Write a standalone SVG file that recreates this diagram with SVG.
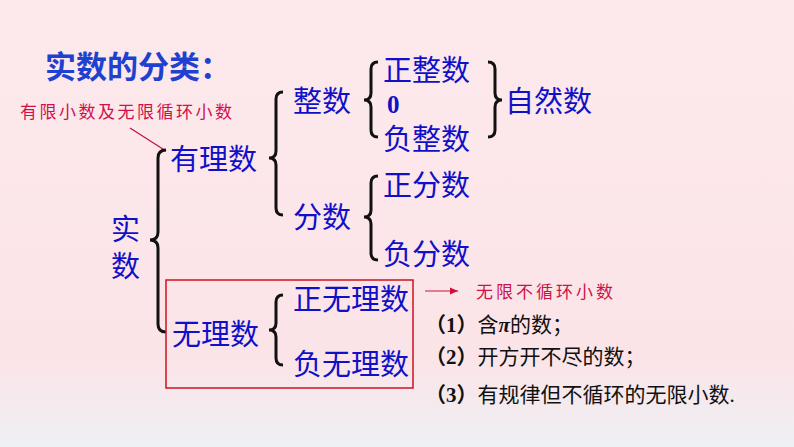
<svg xmlns="http://www.w3.org/2000/svg" width="794" height="447" viewBox="0 0 794 447">
<defs>
<linearGradient id="bg" x1="0" y1="0" x2="0" y2="1"><stop offset="0" stop-color="#fde9ec"/><stop offset="0.8" stop-color="#fbe4e8"/><stop offset="1" stop-color="#eef0f4"/></linearGradient>
<marker id="ah" markerWidth="8" markerHeight="6" refX="7" refY="3" orient="auto"><path d="M0,0 L7,3 L0,6 Z" fill="#d0103a"/></marker>
</defs>
<style>
.b{font-family:"Noto Sans CJK SC",sans-serif;fill:#1010c8;font-size:29px}
.r{font-family:"Noto Sans CJK SC",sans-serif;fill:#d0104a;font-size:17px;letter-spacing:2.5px}
.k{font-family:"Liberation Serif","Noto Sans CJK SC",serif;fill:#111;font-size:21px}
.br{fill:none;stroke:#111;stroke-width:3}
</style>
<rect width="794" height="447" fill="url(#bg)"/>
<text x="45" y="78" class="b" style="font-size:31px;font-weight:bold;fill:#2040d0">实数的分类：</text>
<g id="labels-red">
<text x="20" y="118" class="r">有限小数及无限循环小数</text>
<text x="476" y="298" class="r" style="letter-spacing:3px">无限不循环小数</text>
</g>
<g id="connectors">
<line x1="130" y1="128" x2="166" y2="151" stroke="#c0103a" stroke-width="1.2"/>
<line x1="425" y1="291" x2="458" y2="291" stroke="#d0103a" stroke-width="1.2" marker-end="url(#ah)"/>
<path class="br" d="M166,150 Q158,150 158,158 L158,232 Q158,240 150,240 Q158,240 158,248 L158,324 Q158,332 166,332"/>
<path class="br" d="M283,92 Q276,92 276,99 L276,151 Q276,158 269,158 Q276,158 276,165 L276,208 Q276,215 283,215"/>
<path class="br" d="M378,62 Q371,62 371,69 L371,93 Q371,100 364,100 Q371,100 371,107 L371,130 Q371,137 378,137"/>
<path class="br" d="M488,62 Q495,62 495,69 L495,93 Q495,100 502,100 Q495,100 495,107 L495,130 Q495,137 488,137"/>
<path class="br" d="M378,176 Q371,176 371,183 L371,210 Q371,217 364,217 Q371,217 371,224 L371,253 Q371,260 378,260"/>
<path class="br" d="M283,295 Q276,295 276,302 L276,323 Q276,330 269,330 Q276,330 276,337 L276,358 Q276,365 283,365"/>
</g>
<rect x="166" y="280" width="247" height="108" fill="none" stroke="#d01020" stroke-width="1.5"/>
<g id="n-shishu"><text x="111" y="240" class="b">实</text><text x="111" y="277" class="b">数</text></g>
<g id="n-youli"><text x="170" y="170" class="b">有理数</text></g>
<g id="n-zhengshu"><text x="293" y="112" class="b">整数</text></g>
<g id="n-zzs"><text x="383" y="81" class="b">正整数</text></g>
<g id="n-0"><text x="387" y="113" class="b" style="font-family:'Liberation Serif',serif;font-weight:bold;font-size:25px">0</text></g>
<g id="n-fzs"><text x="383" y="150" class="b">负整数</text></g>
<g id="n-zrs"><text x="505" y="112" class="b">自然数</text></g>
<g id="n-fenshu"><text x="293" y="228" class="b">分数</text></g>
<g id="n-zfs"><text x="383" y="196" class="b">正分数</text></g>
<g id="n-ffs"><text x="383" y="265" class="b">负分数</text></g>
<g id="n-wuli"><text x="172" y="345" class="b">无理数</text></g>
<g id="n-zwl"><text x="293" y="310" class="b">正无理数</text></g>
<g id="n-fwl"><text x="293" y="375" class="b">负无理数</text></g>
<g id="list">
<text x="425" y="332" class="k"><tspan font-weight="bold">（1）</tspan>含<tspan font-weight="bold" font-style="italic">π</tspan>的数；</text>
<text x="425" y="364" class="k"><tspan font-weight="bold">（2）</tspan>开方开不尽的数；</text>
<text x="425" y="402" class="k"><tspan font-weight="bold">（3）</tspan>有规律但不循环的无限小数.</text>
</g>
</svg>
